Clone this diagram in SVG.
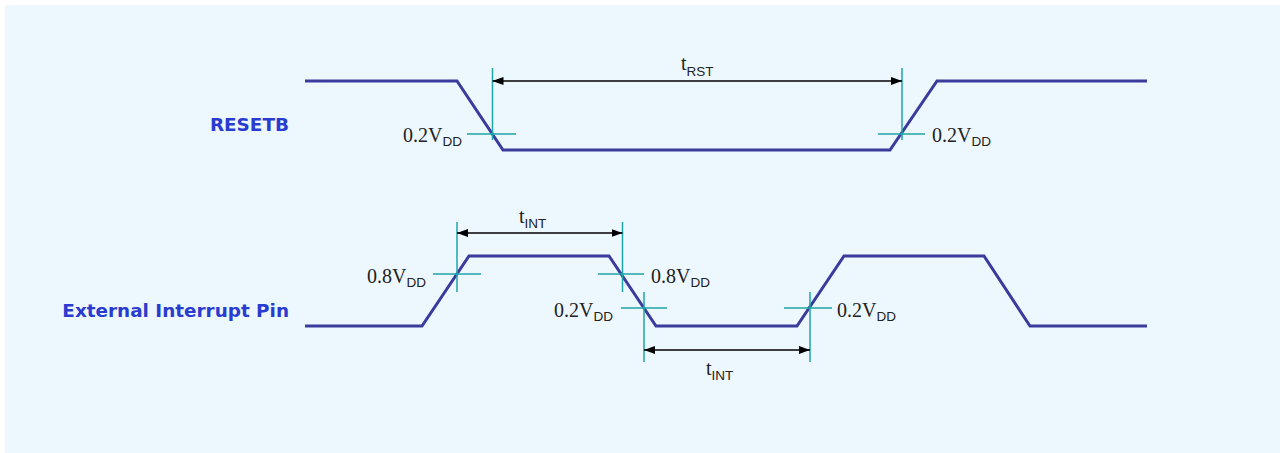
<svg xmlns="http://www.w3.org/2000/svg" width="1280" height="453" viewBox="0 0 1280 453">
<style>
.wave{fill:none;stroke:#3b3b9c;stroke-width:3;stroke-linejoin:miter}
.tick{stroke:#1fa6a6;stroke-width:1.5;fill:none}
.dim{stroke:#000;stroke-width:1.5;fill:none}
.sig{font-family:"DejaVu Sans",Verdana,sans-serif;font-weight:bold;font-size:18.4px;fill:#2a3bcf}
.lv{font-family:"Liberation Serif","Times New Roman",serif;font-size:20px;fill:#222}
.sub{font-family:"Liberation Sans",Arial,sans-serif;font-size:13.5px}
</style>
<defs>
<marker id="ah" viewBox="0 0 11 8" refX="11" refY="4" markerWidth="11" markerHeight="8" markerUnits="userSpaceOnUse" orient="auto-start-reverse">
<path d="M0,0 L11,4 L0,8 Z" fill="#000"/>
</marker>
</defs>
<rect x="0" y="0" width="1280" height="453" fill="#ffffff"/>
<rect x="5" y="5" width="1275" height="448" fill="#edf7fe"/>

<g id="label-resetb"><text class="sig" x="289" y="131" text-anchor="end">RESETB</text></g>
<g id="label-int"><text class="sig" x="289" y="317" text-anchor="end">External Interrupt Pin</text></g>

<g id="wave-resetb"><polyline class="wave" points="305,81 457,81 503,150 890,150 937,81 1147,81"/></g>
<g id="wave-int"><polyline class="wave" points="305,326 422,326 469,256 609,256 656,326 797,326 844,256 984,256 1030,326 1147,326"/></g>

<g id="connectors">
<path class="tick" d="M492.5,68V140M467,134H516"/>
<path class="tick" d="M902,68V140M878,134H925"/>
<path class="tick" d="M457,222V292M433,274H481"/>
<path class="tick" d="M622.5,222V292M598,274H644"/>
<path class="tick" d="M644,292V362M621,308H667"/>
<path class="tick" d="M810,292V362M784,308H832"/>
<line class="dim" x1="492.5" y1="81" x2="902" y2="81" marker-start="url(#ah)" marker-end="url(#ah)"/>
<line class="dim" x1="457" y1="233" x2="622.5" y2="233" marker-start="url(#ah)" marker-end="url(#ah)"/>
<line class="dim" x1="644" y1="350" x2="810" y2="350" marker-start="url(#ah)" marker-end="url(#ah)"/>
</g>

<g id="text-trst"><text class="lv" x="681" y="70">t<tspan class="sub" dy="6">RST</tspan></text></g>
<g id="text-tint-top"><text class="lv" x="519" y="223">t<tspan class="sub" dy="5">INT</tspan></text></g>
<g id="text-tint-bot"><text class="lv" x="706" y="375">t<tspan class="sub" dy="5">INT</tspan></text></g>

<g id="lv1"><text class="lv" x="403" y="142">0.2V<tspan class="sub" dy="4">DD</tspan></text></g>
<g id="lv2"><text class="lv" x="932" y="142">0.2V<tspan class="sub" dy="4">DD</tspan></text></g>
<g id="lv3"><text class="lv" x="367" y="283">0.8V<tspan class="sub" dy="4">DD</tspan></text></g>
<g id="lv4"><text class="lv" x="651" y="283">0.8V<tspan class="sub" dy="4">DD</tspan></text></g>
<g id="lv5"><text class="lv" x="554" y="317">0.2V<tspan class="sub" dy="4">DD</tspan></text></g>
<g id="lv6"><text class="lv" x="837" y="317">0.2V<tspan class="sub" dy="4">DD</tspan></text></g>
</svg>
